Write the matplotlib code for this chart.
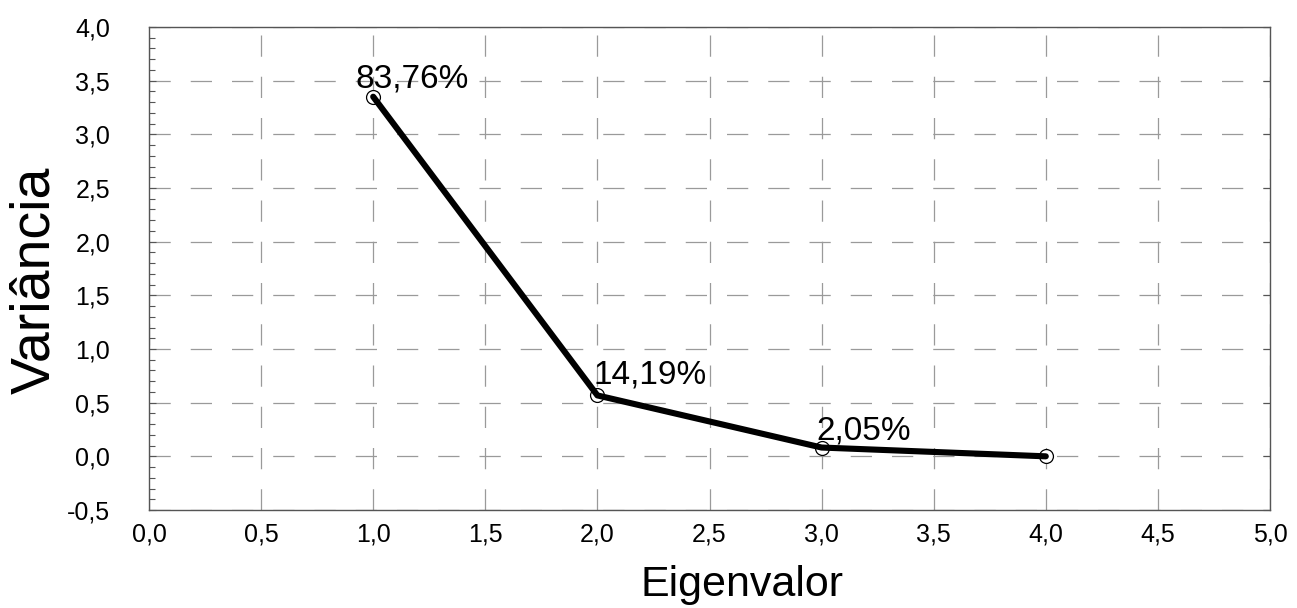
import matplotlib
matplotlib.use("Agg")
import matplotlib.pyplot as plt
from matplotlib.ticker import MultipleLocator, FuncFormatter

# Data
components = [1, 2, 3, 4]
eigenvalues = [3.3504, 0.5676, 0.082, 0.0]
labels = ["83,76%", "14,19%", "2,05%", None]
label_offsets = [(-13, 6.5), (-3, 8.5), (-4, 6)]  # points

plt.rcParams['font.family'] = ['Liberation Sans', 'DejaVu Sans']

fig = plt.figure(figsize=(12.97, 6.08), dpi=100)
ax = fig.add_axes([149/1297, 1-510/608, (1270-149)/1297, (510-27)/608])

ax.set_xlim(0, 5)
ax.set_ylim(-0.5, 4.0)

ax.xaxis.set_major_locator(MultipleLocator(0.5))
ax.yaxis.set_major_locator(MultipleLocator(0.5))
ax.yaxis.set_minor_locator(MultipleLocator(0.1))
fmt = FuncFormatter(lambda v, p: f"{v:.1f}".replace(".", ","))
ax.xaxis.set_major_formatter(fmt)
ax.yaxis.set_major_formatter(fmt)

ax.grid(True, which='major', color='#9a9a9a', linestyle=(0, (17, 16)), linewidth=0.9)
ax.set_axisbelow(True)

for s in ax.spines.values():
    s.set_color('#555555')
    s.set_linewidth(1.0)

ax.tick_params(axis='y', which='major', direction='in', length=5, width=0.8,
               color='#555555', labelsize=18, pad=28, right=True)
ax.tick_params(axis='y', which='minor', direction='in', length=4, width=0.8,
               color='#555555', right=False)
ax.tick_params(axis='x', which='major', direction='in', length=0,
               labelsize=18, pad=9)

ax.plot(components, eigenvalues, color='black', linewidth=4.4, zorder=3,
        solid_capstyle='round')
ax.plot(components, eigenvalues, linestyle='none', marker='o', markersize=10,
        markerfacecolor='white', markeredgecolor='black', markeredgewidth=0.9,
        zorder=2)

for x, y, lab, off in zip(components, eigenvalues, labels, label_offsets):
    if lab:
        ax.annotate(lab, xy=(x, y), xytext=off, textcoords='offset points',
                    fontsize=24, ha='left', va='baseline', color='black', zorder=4)

fig.text(35/1297, 1-280/608, "Variância", rotation=90, fontsize=40,
         ha='center', va='center')
fig.text(742/1297, 1-585/608, "Eigenvalor", fontsize=31,
         ha='center', va='center')

fig.savefig("out.png", dpi=100)
